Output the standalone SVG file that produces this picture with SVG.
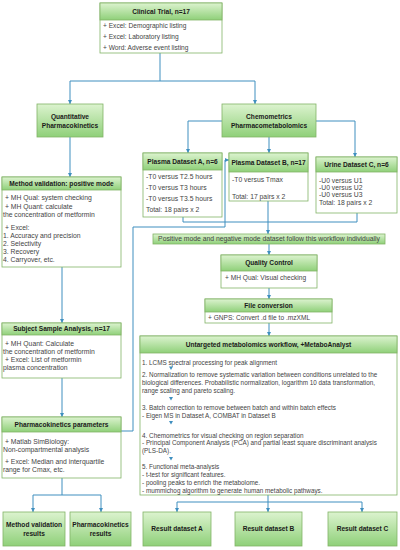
<svg xmlns="http://www.w3.org/2000/svg" width="400" height="550" viewBox="0 0 400 550">
<defs>
<linearGradient id="g" x1="0" y1="0" x2="0" y2="1">
<stop offset="0" stop-color="#dcf3cf"/>
<stop offset="1" stop-color="#8fd079"/>
</linearGradient>
<marker id="ah" viewBox="0 0 6 6" refX="6" refY="3" markerWidth="4.5" markerHeight="4.5" markerUnits="userSpaceOnUse" orient="auto">
<path d="M0,0 L6,3 L0,6 z" fill="#3f8fbf"/>
</marker>
<style>
.box{fill:#ffffff;stroke:#82b366;stroke-width:0.8}
.hd{fill:url(#g);stroke:#82b366;stroke-width:0.8}
.t{font-family:"Liberation Sans",Arial,sans-serif;font-size:6.6px;font-weight:bold;fill:#1a1a1a;text-anchor:middle}
.b{font-family:"Liberation Sans",Arial,sans-serif;font-size:6.8px;fill:#444444}
.u{font-size:6.35px}
.k{font-size:6.6px}
.c{fill:none;stroke:#3f8fbf;stroke-width:1;marker-end:url(#ah)}
.n{fill:none;stroke:#3f8fbf;stroke-width:1}
.tri{fill:#3f8fbf}
</style>
</defs>
<rect width="400" height="550" fill="#ffffff"/>

<g id="connectors">
<path class="n" d="M160 53 V81"/>
<path class="c" d="M160 81 H70 V104"/>
<path class="c" d="M160 81 H255 V104"/>
<path class="c" d="M70 137 V177"/>
<path class="c" d="M222 121 H188 V153"/>
<path class="c" d="M316 121 H355 V157"/>
<path class="c" d="M269 137 V153"/>
<path class="n" d="M183 217 V222 H268"/>
<path class="n" d="M357 213 V222 H268"/>
<path class="c" d="M268 201 V234"/>
<path class="c" d="M269 244 V255"/>
<path class="c" d="M269 288 V299"/>
<path class="c" d="M269 323 V336"/>
<path class="c" d="M62 267 V323"/>
<path class="c" d="M62 378 V417"/>
<path class="c" d="M121 431 H133 V227 H225 V160 H229"/>
<path class="n" d="M62 478 V495"/>
<path class="c" d="M62 495 H33 V512"/>
<path class="c" d="M62 495 H101 V512"/>
<path class="n" d="M268 495 V502"/>
<path class="c" d="M268 502 H177 V512"/>
<path class="c" d="M268 502 H362 V512"/>
<path class="c" d="M268 502 V512"/>
</g>

<g id="clinical-trial">
<rect class="box" x="100" y="3" width="122" height="50"/>
<rect class="hd" x="100" y="3" width="122" height="17"/>
<text class="t" x="161" y="14">Clinical Trial, n=17</text>
<text class="b k" x="103" y="28.3">+ Excel: Demographic listing</text>
<text class="b k" x="103" y="39.3">+ Excel: Laboratory listing</text>
<text class="b k" x="103" y="50.3">+ Word: Adverse event listing</text>
</g>

<g id="quantitative">
<rect class="hd" x="37" y="104" width="66" height="33"/>
<text class="t" x="70" y="119">Quantitative</text>
<text class="t" x="70" y="127.5">Pharmacokinetics</text>
</g>

<g id="chemometrics">
<rect class="hd" x="222" y="104" width="94" height="33"/>
<text class="t" x="269" y="119">Chemometrics</text>
<text class="t" x="269" y="127.5">Pharmacometabolomics</text>
</g>

<g id="plasma-a">
<rect class="box" x="143" y="153" width="79" height="64"/>
<rect class="hd" x="143" y="153" width="79" height="17"/>
<text class="t" x="182.5" y="164">Plasma Dataset A, n=6</text>
<text class="b" x="146" y="179.4">-T0 versus T2.5 hours</text>
<text class="b" x="146" y="190.4">-T0 versus T3 hours</text>
<text class="b" x="146" y="201.4">-T0 versus T3.5 hours</text>
<text class="b" x="146" y="212.4">Total: 18 pairs x 2</text>
</g>

<g id="plasma-b">
<rect class="box" x="229" y="153" width="79" height="48"/>
<rect class="hd" x="229" y="153" width="79" height="19"/>
<text class="t" x="268.5" y="165">Plasma Dataset B, n=17</text>
<text class="b" x="232" y="182.4">-T0 versus Tmax</text>
<text class="b" x="232" y="199.4">Total: 17 pairs x 2</text>
</g>

<g id="urine-c">
<rect class="box" x="316" y="157" width="81" height="56"/>
<rect class="hd" x="316" y="157" width="81" height="15"/>
<text class="t" x="356.5" y="166.8">Urine Dataset C, n=6</text>
<text class="b" x="319" y="183.4">-U0 versus U1</text>
<text class="b" x="319" y="190.4">-U0 versus U2</text>
<text class="b" x="319" y="197.4">-U0 versus U3</text>
<text class="b" x="319" y="205.4">Total: 18 pairs x 2</text>
</g>

<g id="mode-banner">
<rect class="hd" x="153" y="234" width="232" height="10"/>
<text class="b" x="269" y="241.3" text-anchor="middle" font-size="6.4">Positive mode and negative mode dataset follow this workflow individually</text>
</g>

<g id="quality-control">
<rect class="box" x="221" y="255" width="96" height="33"/>
<rect class="hd" x="221" y="255" width="96" height="16"/>
<text class="t" x="269" y="265.3">Quality Control</text>
<text class="b k" x="225" y="280.4">+ MH Qual: Visual checking</text>
</g>

<g id="file-conversion">
<rect class="box" x="205" y="299" width="127" height="24"/>
<rect class="hd" x="205" y="299" width="127" height="13"/>
<text class="t" x="268.5" y="307.9">File conversion</text>
<text class="b k" x="208" y="320.2">+ GNPS: Convert .d file to .mzXML</text>
</g>

<g id="untargeted">
<rect class="box" x="140" y="336" width="257" height="159"/>
<rect class="hd" x="140" y="336" width="257" height="17"/>
<text class="t" x="268.5" y="346.9">Untargeted metabolomics workflow, +MetaboAnalyst</text>
<text class="b u" x="142" y="364.8">1. LCMS spectral processing for peak alignment</text>
<path class="tri" d="M169 366.5 H173 L171 370 z"/>
<text class="b u" x="142" y="376.8">2. Normalization to remove systematic variation between conditions unrelated to the</text>
<text class="b u" x="142" y="384.8">biological differences. Probabilistic normalization, logarithm 10 data transformation,</text>
<text class="b u" x="142" y="392.8">range scaling and pareto scaling.</text>
<path class="tri" d="M169 397 H173 L171 400.5 z"/>
<text class="b u" x="142" y="410.3">3. Batch correction to remove between batch and within batch effects</text>
<text class="b u" x="142" y="417.8">- Eigen MS in Dataset A, COMBAT in Dataset B</text>
<path class="tri" d="M169 421 H173 L171 424.5 z"/>
<text class="b u" x="142" y="437.8">4. Chemometrics for visual checking on region separation</text>
<text class="b u" x="142" y="445.3">- Principal Component Analysis (PCA) and partial least square discriminant analysis</text>
<text class="b u" x="142" y="452.8">(PLS-DA).</text>
<path class="tri" d="M169 457 H173 L171 460.5 z"/>
<text class="b u" x="142" y="469.3">5. Functional meta-analysis</text>
<text class="b u" x="142" y="477.3">- t-test for significant features.</text>
<text class="b u" x="142" y="485.3">- pooling peaks to enrich the metabolome.</text>
<text class="b u" x="142" y="493.3">- mummichog algorithm to generate human metabolic pathways.</text>
</g>

<g id="method-validation">
<rect class="box" x="2" y="177" width="119" height="90"/>
<rect class="hd" x="2" y="177" width="119" height="13"/>
<text class="t" x="61.5" y="185.9">Method validation: positive mode</text>
<text class="b" x="5" y="200.4">+ MH Qual: system checking</text>
<text class="b" x="5" y="209.4">+ MH Quant: calculate</text>
<text class="b" x="3" y="217.4">the concentration of metformin</text>
<text class="b" x="5" y="230.2">+ Excel:</text>
<text class="b" x="3" y="238.2">1. Accuracy and precision</text>
<text class="b" x="3" y="246.2">2. Selectivity</text>
<text class="b" x="3" y="254.2">3. Recovery</text>
<text class="b" x="3" y="262.2">4. Carryover, etc.</text>
</g>

<g id="subject-sample">
<rect class="box" x="2" y="323" width="119" height="55"/>
<rect class="hd" x="2" y="323" width="119" height="12"/>
<text class="t" x="61.5" y="331.4">Subject Sample Analysis, n=17</text>
<text class="b" x="5" y="346.2">+ MH Quant: Calculate</text>
<text class="b" x="3" y="354.2">the concentration of metformin</text>
<text class="b" x="5" y="362.2">+ Excel: List of metformin</text>
<text class="b" x="3" y="370.2">plasma concentration</text>
</g>

<g id="pk-parameters">
<rect class="box" x="2" y="417" width="119" height="61"/>
<rect class="hd" x="2" y="417" width="119" height="15"/>
<text class="t" x="61.5" y="426.8">Pharmacokinetics parameters</text>
<text class="b" x="5" y="443.9">+ Matlab SimBiology:</text>
<text class="b" x="3" y="452.2">Non-compartmental analysis</text>
<text class="b" x="5" y="463.9">+ Excel: Median and interquartile</text>
<text class="b" x="3" y="472.2">range for Cmax, etc.</text>
</g>

<g id="mv-results">
<rect class="hd" x="3" y="512" width="62" height="34"/>
<text class="t" x="34" y="527" font-size="6.9">Method validation</text>
<text class="t" x="34" y="535.7" font-size="6.9">results</text>
</g>

<g id="pk-results">
<rect class="hd" x="70" y="512" width="61" height="34"/>
<text class="t" x="100.5" y="527" font-size="6.9">Pharmacokinetics</text>
<text class="t" x="100.5" y="535.7" font-size="6.9">results</text>
</g>

<g id="result-a">
<rect class="hd" x="143" y="512" width="68" height="34"/>
<text class="t" x="177" y="531.4" font-size="6.9">Result dataset A</text>
</g>

<g id="result-b">
<rect class="hd" x="235" y="512" width="67" height="34"/>
<text class="t" x="268.5" y="531.4" font-size="6.9">Result dataset B</text>
</g>

<g id="result-c">
<rect class="hd" x="328" y="512" width="69" height="34"/>
<text class="t" x="362.5" y="531.4" font-size="6.9">Result dataset C</text>
</g>
</svg>
